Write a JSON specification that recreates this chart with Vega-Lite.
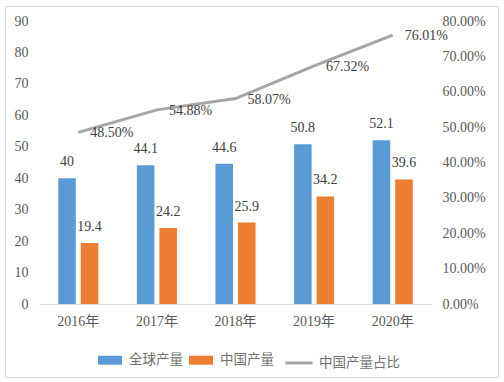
{
  "$schema": "https://vega.github.io/schema/vega-lite/v6.json",
  "width": 493,
  "height": 371,
  "autosize": "none",
  "padding": {"left": 5, "top": 6, "right": 6, "bottom": 5},
  "background": "white",
  "config": {
    "view": {"stroke": "#d9d9d9", "strokeWidth": 1},
    "font": "Liberation Serif, Noto Sans CJK SC",
    "axis": {"labelFont": "Liberation Serif, Noto Sans CJK SC", "labelFontSize": 14, "labelColor": "#595959", "grid": false, "ticks": false, "title": null},
    "legend": {"labelFont": "Noto Sans CJK SC", "labelFontSize": 13.5, "labelColor": "#707070", "title": null}
  },
  "data": {
    "values": [
      {"year": "2016年", "series": "全球产量", "value": 40},
      {"year": "2017年", "series": "全球产量", "value": 44.1},
      {"year": "2018年", "series": "全球产量", "value": 44.6},
      {"year": "2019年", "series": "全球产量", "value": 50.8},
      {"year": "2020年", "series": "全球产量", "value": 52.1},
      {"year": "2016年", "series": "中国产量", "value": 19.4},
      {"year": "2017年", "series": "中国产量", "value": 24.2},
      {"year": "2018年", "series": "中国产量", "value": 25.9},
      {"year": "2019年", "series": "中国产量", "value": 34.2},
      {"year": "2020年", "series": "中国产量", "value": 39.6},
      {"year": "2016年", "series": "中国产量占比", "value": 0.485},
      {"year": "2017年", "series": "中国产量占比", "value": 0.5488},
      {"year": "2018年", "series": "中国产量占比", "value": 0.5807},
      {"year": "2019年", "series": "中国产量占比", "value": 0.6732},
      {"year": "2020年", "series": "中国产量占比", "value": 0.7601}
    ]
  },
  "encoding": {
    "x": {
      "field": "year",
      "type": "nominal",
      "sort": ["2016年", "2017年", "2018年", "2019年", "2020年"],
      "scale": {"range": [34, 427], "paddingInner": 0.49, "paddingOuter": 0.245},
      "axis": {"orient": "bottom", "offset": -73, "labelAngle": 0, "labelPadding": 10, "domainColor": "#d9d9d9", "domainWidth": 1}
    }
  },
  "layer": [
    {
      "transform": [{"filter": "datum.series !== '中国产量占比'"}],
      "encoding": {
        "xOffset": {"field": "series", "type": "nominal", "sort": ["全球产量", "中国产量"], "scale": {"paddingInner": 0.22, "paddingOuter": 0}},
        "y": {
          "field": "value",
          "type": "quantitative",
          "scale": {"domain": [0, 90], "range": [298, 15], "nice": false},
          "axis": {"orient": "left", "values": [0, 10, 20, 30, 40, 50, 60, 70, 80, 90], "domain": false, "labelPadding": 0, "offset": -23}
        }
      },
      "layer": [
        {
          "mark": {"type": "bar"},
          "encoding": {
            "color": {
              "field": "series",
              "type": "nominal",
              "sort": ["全球产量", "中国产量"],
              "scale": {"domain": ["全球产量", "中国产量"], "range": ["#5B9BD5", "#ED7D31"]},
              "legend": {"orient": "none", "legendX": 93, "legendY": 342, "direction": "horizontal", "symbolType": "M-1,-0.375H1V0.375H-1Z", "symbolSize": 576, "symbolStrokeWidth": 0, "labelOffset": 7, "columnPadding": 6}
            }
          }
        },
        {
          "mark": {"type": "text", "baseline": "alphabetic", "dy": -12, "fontSize": 14, "color": "#404040", "font": "Liberation Serif"},
          "encoding": {"text": {"field": "value", "type": "quantitative"}}
        }
      ]
    },
    {
      "transform": [{"filter": "datum.series === '中国产量占比'"}],
      "encoding": {
        "y": {
          "field": "value",
          "type": "quantitative",
          "scale": {"domain": [0, 0.8], "range": [298, 15], "nice": false},
          "axis": {"orient": "right", "values": [0, 0.1, 0.2, 0.3, 0.4, 0.5, 0.6, 0.7, 0.8], "format": ".2%", "domain": false, "labelPadding": 0, "offset": -56}
        }
      },
      "layer": [
        {
          "mark": {"type": "line", "strokeWidth": 3},
          "encoding": {
            "stroke": {
              "field": "series",
              "type": "nominal",
              "scale": {"domain": ["中国产量占比"], "range": ["#A5A5A5"]},
              "legend": {"orient": "none", "legendX": 279, "legendY": 342, "symbolType": "stroke", "symbolSize": 729, "symbolStrokeWidth": 3, "labelOffset": 5}
            }
          }
        },
        {
          "mark": {"type": "text", "align": "left", "baseline": "middle", "dx": 12, "dy": 1, "fontSize": 14, "color": "#404040", "font": "Liberation Serif"},
          "encoding": {"text": {"field": "value", "type": "quantitative", "format": ".2%"}}
        }
      ]
    }
  ],
  "resolve": {"scale": {"y": "independent"}}
}
